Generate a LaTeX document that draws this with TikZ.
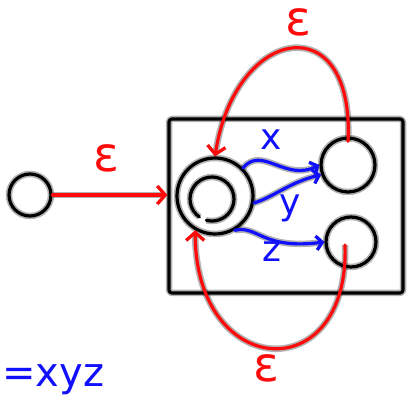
\documentclass[tikz,border=0pt]{standalone}
\usepackage{fontspec}
\usetikzlibrary{arrows.meta,calc}
\newfontfamily\handfont{DejaVu Sans}
\definecolor{pen}{HTML}{FF0A0A}
\definecolor{flux}{HTML}{1010FF}

\begin{document}
\begin{tikzpicture}[x=1pt,y=-1pt,
  every node/.style={inner sep=0pt,font=\handfont},
  stroke/.style={line width=3.2pt,line cap=round,line join=round,
    preaction={draw,line width=6.5pt,opacity=.3}},
  pool/.style={circle,draw=black,stroke,minimum size=#1},
  feed/.style={stroke,draw=pen,-{Straight Barb[length=8pt,width=18pt,line width=3.2pt]}},
  route/.style={stroke,draw=flux,-{Straight Barb[length=6pt,width=14pt,line width=3.2pt]}},
  eps/.style={text=pen,font=\handfont\fontsize{48}{48}\selectfont},
  tag/.style={text=flux,font=\handfont\fontsize{36}{36}\selectfont}]
\useasboundingbox (0,0) rectangle (408,401);

\node[draw=black,stroke,rounded corners=3pt,minimum width=234pt,
  minimum height=174pt] (box) at (286,206) {};
\node[pool=42pt] (src) at (30,195) {};
\node[pool=76pt] (cell) at (215,196) {};
\node[pool=54pt] (top) at (348,165) {};
\node[pool=50pt] (bot) at (351,242) {};
% inner pool, left open at the bottom
\draw[stroke] ($(cell.center)+(-3,3)$) ++(125:22) arc (125:465:22);

\draw[feed] (src.east) -- (box.west |- src.east);
\node[eps] (e1) at (106,158) {ε};

\draw[feed] ($(top.north)+(0,5)$) .. controls (355,5) and (235,25) .. (cell.north);
\node[eps] (e2) at (298,22) {ε};
\draw[feed] ($(bot.center)+(-6,3)$) .. controls (350,390) and (195,380) .. (cell.-120);
\node[eps] (e3) at (266,368) {ε};

\draw[route] (cell.45) .. controls (262,145) and (285,182) .. (top.west);
\node[tag] (lx) at (271,140) {x};
\draw[route] (cell.-10) .. controls (272,198) and (290,182) .. (top.200);
\node[tag] (ly) at (290,208) {y};
\draw[route] (cell.-60) .. controls (258,225) and (262,250) .. (bot.west);
\node[tag] (lz) at (272,252) {z};

\node[tag,anchor=base west,font=\handfont\fontsize{40}{40}\selectfont]
  (law) at (2,387) {=xyz};
\end{tikzpicture}
\end{document}
